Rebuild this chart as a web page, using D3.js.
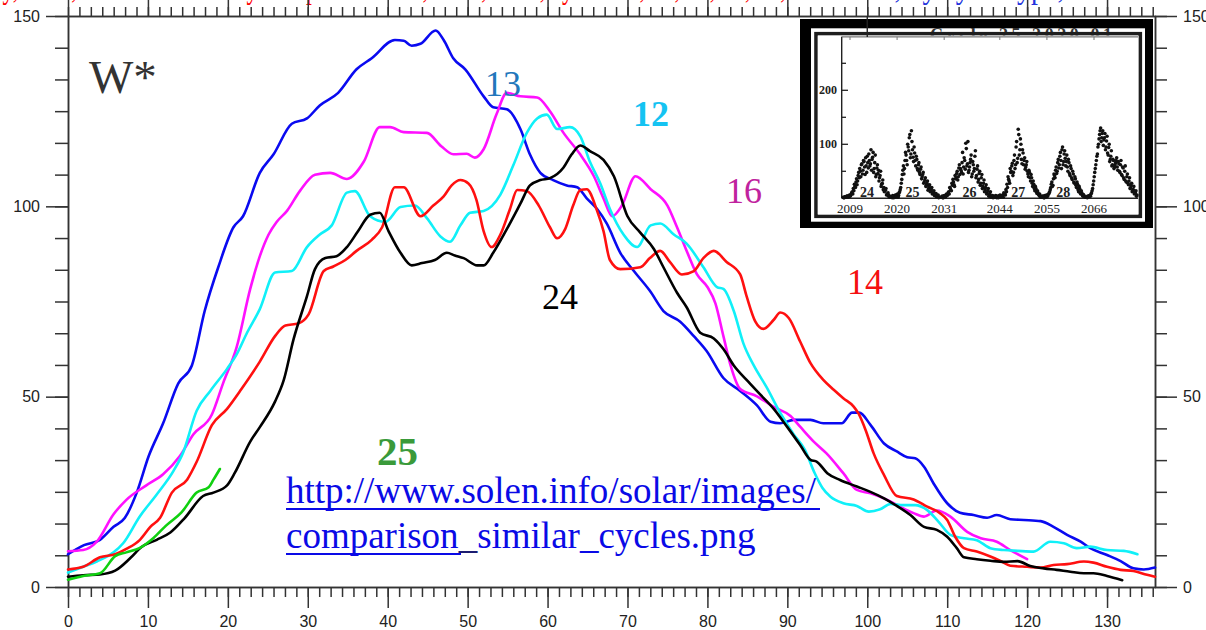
<!DOCTYPE html>
<html><head><meta charset="utf-8">
<script src="https://cdn.jsdelivr.net/npm/d3@7"></script>
<style>html,body{margin:0;padding:0;background:#fff;}svg{display:block;}</style>
</head><body>
<svg id="chart" width="1206" height="630"></svg>
<script>
// ---------- main chart data: [month of cycle, smoothed sunspot number W*] ----------
const cycle13 = [[0,8.6],[2,11],[4,12.4],[5.7,15.8],[7.1,18.1],[8.6,24.8],[10.1,34.4],[11.9,43],[13.8,53.5],[15.5,58.2],[17.1,72.5],[18.8,84],[20.7,94.5],[21.9,97.4],[24,108.8],[25.7,113.6],[28,121.7],[29.9,123.1],[31.5,126.5],[33.8,129.8],[36.1,136],[38,138.9],[40.9,143.7],[42,143.5],[43,142.2],[44.1,142.7],[46,146.2],[47,143.7],[48.2,138.9],[49.7,136],[52,128.9],[53.2,126],[54.9,125.5],[56.6,120.3],[57.8,113.6],[59.1,108.8],[60.7,106.9],[62.4,105.5],[63.7,105],[64.9,102.1],[66.2,99.3],[67.4,95.5],[69.1,87.8],[70.8,83],[72.8,77.8],[74.5,72.5],[76.6,69.7],[78.3,65.9],[79.9,62],[82,54.9],[84.1,51.5],[86.2,47.7],[87.9,43.4],[89.1,43],[90.8,43.9],[92.9,43.9],[94.5,43],[96.8,43],[98.1,45.8],[99,45.8],[100.4,42.6],[102.1,37.7],[103.7,35.6],[105,34.1],[106,33.8],[107.1,31.6],[108.3,27.2],[110,22],[111.6,19.5],[113.3,18.9],[115,18.2],[116.2,18.9],[117.9,17.8],[119.6,17.6],[121.7,17.3],[123.3,15.8],[125,13.7],[126.7,11.9],[127.9,10.2],[130,8.4],[131.7,6.8],[133.3,4.9],[134.6,4.6],[136,5.1]];
const cycle16 = [[0,9.4],[1.9,9.7],[3.6,11.9],[5.7,19.1],[7.3,22.9],[9.8,26.7],[11.9,29.6],[14,34.4],[15.7,40.1],[18,45.3],[19.4,53.5],[21.1,63],[22.8,78.3],[24,86.9],[25.1,92.6],[26.1,95.9],[27.4,98.8],[29,104],[30.9,108.3],[32.8,108.8],[34.9,107.2],[37,111.7],[39,120.8],[40.3,120.8],[42,119.5],[44.9,119.3],[46.7,115.8],[48.2,113.7],[49.9,113.8],[50.9,112.8],[52,115],[53.6,124.1],[54.9,129.8],[56.6,128.9],[58.7,128.6],[60.3,125],[62,119.3],[64.1,113.6],[65.8,107.9],[67,102.1],[68.1,97.4],[69.3,100.2],[71,107.9],[72.9,104.5],[75,100.2],[76.2,94.5],[77.5,87.8],[78.7,82.1],[80,78.8],[81,74.5],[82,65.9],[82.9,58.2],[84.1,52],[86.2,50.1],[88.3,47.3],[90.4,44.9],[91.6,42.1],[93.3,38.2],[94.9,35.1],[97,29.9],[98.7,25.5],[100.4,24.6],[102.5,22.9],[104.1,21.1],[105.8,19.4],[107.1,18.5],[108.7,20.1],[110.4,18.5],[112.5,14.5],[114.2,12.8],[116.2,11.9],[117.9,9.7],[120,7.3]];
const cycle12 = [[0,3.8],[1.9,5.3],[3.6,6.7],[5.7,9.1],[6.9,11.5],[9,18.6],[11.1,24.3],[13.2,30.5],[14.4,35.3],[16.1,46.3],[17.8,51.5],[19.9,57.3],[21.1,61.1],[22.4,66.8],[24,73],[25.9,82.6],[28,83],[29.9,89.3],[31.5,92.6],[33,95],[34.9,103.6],[35.9,104],[37.8,97.4],[39.7,95.9],[41.6,99.8],[43.4,100.2],[44.9,96.9],[46.6,92.1],[47.8,90.7],[49.1,95],[50.3,98.3],[52,98.8],[54.1,103.1],[55.7,110.7],[57.4,119.3],[58.7,123.1],[59.9,124.1],[61.2,120.3],[62.8,120.8],[64.1,118.4],[65.3,111.7],[66.6,106],[67.8,99.3],[69.5,92.6],[71.2,89.3],[72.9,95],[74.1,95.5],[75.8,92.6],[77.4,90.2],[79.5,84],[81.2,78.8],[82,78.3],[83.3,72.5],[84.5,64],[85.8,58.2],[87.4,52.5],[89.1,45.8],[90.8,40.1],[92.2,36],[93.4,30],[94.4,26],[95.4,23.7],[97,22],[98.7,21.3],[100.2,19.8],[101.6,20.4],[102.9,21.8],[104.5,21.5],[106,21.5],[107.5,20.2],[108.9,17.2],[110.4,13.7],[112.1,12.8],[113.7,12.3],[115.4,10.2],[117.1,9.7],[118.8,9.5],[120.8,9.3],[122.9,11.9],[124.6,11.5],[126.2,10.2],[127.9,10.6],[130,9.7],[132.1,9.5],[133.8,8.6]];
const cycle14 = [[0,4.6],[1.9,5.3],[4,7.8],[5.9,8.6],[7.3,10],[9,12.4],[10.3,15.8],[11.5,18.1],[13,24.8],[14.9,28.2],[16.1,32.9],[18,42.5],[19.9,46.8],[21.7,52],[24,59.2],[25.9,65.9],[27.2,68.7],[28.8,69.2],[30.1,71.6],[32,83],[33.2,84.2],[34.7,85.9],[36.1,88.3],[38,91.2],[39.3,94.5],[40.9,105],[42,105],[44.1,97.4],[45.7,100.2],[47,102.6],[48,105.5],[49.1,106.9],[50.1,106],[51.1,101.7],[52,93.5],[53,89.3],[54.1,92.6],[55.3,99.3],[56.2,104.3],[57.4,104],[58.9,100.2],[60.3,94.5],[61.2,91.6],[62.2,94],[63.2,100.2],[64.1,104.3],[64.9,104.5],[66.2,98.8],[67,93.5],[67.8,85.9],[69.1,83.5],[71.6,84],[72.8,86.4],[74.1,88.3],[75.3,85.4],[76.8,82.1],[78.3,83],[79.5,86.4],[80.8,88.3],[82.4,85.4],[84.1,82.1],[84.9,76.4],[86,69.7],[87,67.8],[88.3,70.2],[89.1,72.1],[90.2,70.6],[91.6,64.5],[92.9,58.8],[94.5,54.4],[95.8,51.8],[97,49.6],[98.3,47.4],[98.9,45.6],[99.8,41.2],[100.8,35.1],[102.1,29.4],[103.7,23.9],[105.8,23],[107.5,21.1],[109.1,19.4],[110,17.6],[111,13.2],[112.1,10.2],[113.7,9.3],[115.4,8],[116.6,6.9],[117.9,5.6],[120,5.3],[121.7,5.1],[123.3,5.8],[125,6],[127.1,6.7],[128.3,6.4],[130,5.3],[131.7,4.5],[133.3,4.2],[135,3.2],[136,2.7]];
const cycle24 = [[0,2.7],[1.9,3.1],[4,3.3],[5.9,4.3],[7.8,7.6],[9.2,10.5],[11.1,12.4],[12.8,14.3],[14.6,18.1],[16.9,23.9],[18.2,24.8],[19.9,26.7],[20.9,30.1],[22.8,38.2],[24,42],[25.9,48.7],[27,54.4],[28.2,64.9],[29.9,76.4],[30.9,83.5],[32.2,86.4],[33.6,86.9],[34.9,89.3],[36.3,93.5],[37.8,97.8],[39,98.3],[40.1,93.5],[41.6,87.8],[43,84.5],[44.3,85.1],[45.9,85.9],[47.4,87.8],[48.4,87.1],[49.5,86.4],[51.2,84.5],[52,84.5],[53.2,87.8],[54.9,94],[56.6,100.7],[57.8,105.5],[59.1,106.9],[60.3,107.4],[62,110.2],[63,113.6],[64.1,116],[65.3,114.5],[67,112.2],[68.3,107.9],[70,97.4],[71.6,93.1],[73.3,88.8],[74.5,84],[76.2,77.3],[77.4,73.5],[79.1,66.8],[80.8,65.3],[82,62.5],[83.3,58.2],[84.9,54.4],[86.6,50.6],[88.3,46.8],[90,42],[91.6,37.3],[92.9,33.4],[93.7,32.9],[95,29.9],[96.6,28.1],[98.7,26.4],[100.4,25],[102.1,23.3],[103.7,21.3],[105.4,18.9],[107.1,15.8],[108.7,15],[110,13.2],[111.2,10.2],[112.1,7.8],[113.7,7.3],[115.4,6.9],[117.1,6.6],[118.8,6.8],[120.4,5.5],[122.1,4.9],[123.7,4.5],[125.4,4],[127.1,3.6],[128.3,3.6],[130,2.9],[131.9,1.8]];
const cycle25 = [[0,1.9],[1.9,2.9],[4,3.6],[5.9,8.1],[7.3,9.1],[9,10.3],[10.7,12.9],[12.3,16.2],[14.2,19.6],[16.1,24.8],[17.6,26.2],[18.2,28.2],[19,31]];

const xTickLabels = [0,10,20,30,40,50,60,70,80,90,100,110,120,130];
const yTickLabels = [0,50,100,150];
const cycleLabels = [
  {text:"13", x:485, y:96, size:36, weight:"normal", color:"#2277bb"},
  {text:"12", x:633, y:126, size:36, weight:"bold", color:"#15c3f2"},
  {text:"16", x:726, y:203, size:36, weight:"normal", color:"#c0239e"},
  {text:"14", x:847, y:294, size:36, weight:"normal", color:"#f51010"},
  {text:"24", x:542, y:309, size:36, weight:"normal", color:"#000000"},
  {text:"25", x:377, y:465, size:41, weight:"bold", color:"#3a9a3a"}
];

// ---------- inset data: predicted monthly values, cycles 24..29 (two interleaved samples) ----------
const inset24 = {start:2007.4, step:0.25, values:[2,1,3,2,4,3,6,5,10,8,14,22,30,25,42,38,50,62,45,70,58,75,48,66,82,60,90,72,85,55,80,44,62,52,38,50,26,34,20,14,18,8,10,5,3]};
const inset24b = {start:2007.525, step:0.25, values:[1,3,2,4,2,5,4,8,12,18,26,20,36,32,48,55,40,64,52,68,44,60,78,56,70,64,52,76,48,66,40,56,46,32,42,22,28,16,12,15,6,8,4,2]};
const inset25 = {start:2018.6, step:0.25, values:[3,1,4,2,6,3,8,5,12,20,35,52,45,70,80,62,95,112,75,125,90,68,84,60,72,52,66,44,58,40,48,30,38,24,32,18,25,14,20,10,14,6,9,4,6,2]};
const inset25b = {start:2018.725, step:0.25, values:[2,5,1,3,4,7,2,10,16,28,44,60,55,85,70,100,88,118,82,105,76,95,70,78,55,62,48,54,36,44,28,34,22,28,15,22,12,16,8,11,5,7,3,4,1]};
const inset26 = {start:2030.3, step:0.25, values:[2,4,1,5,3,8,6,12,20,15,28,35,25,42,38,50,40,62,55,48,85,58,70,102,60,105,52,66,80,45,62,55,88,42,60,35,50,28,44,22,34,16,25,10,18,6,12,3,5,2]};
const inset26b = {start:2030.425, step:0.25, values:[3,1,4,2,6,5,10,8,18,14,24,30,22,36,46,34,56,44,52,66,45,75,54,92,64,48,58,72,40,68,50,78,38,54,30,46,24,38,18,28,12,20,8,14,4,8,2,4,1]};
const inset27 = {start:2042.8, step:0.25, values:[2,5,1,4,3,6,3,5,2,8,6,12,20,35,28,48,60,42,70,55,95,66,128,80,110,72,90,62,75,58,68,45,52,38,44,28,32,18,22,12,14,7,8,3,4]};
const inset27b = {start:2042.925, step:0.25, values:[4,2,3,1,5,2,4,6,10,9,16,26,40,32,55,50,65,48,80,62,105,74,118,90,100,64,84,70,54,62,50,40,48,32,38,22,26,14,18,9,10,5,3,2]};
const inset28 = {start:2053.9, step:0.25, values:[2,4,1,3,6,4,8,12,20,30,24,45,38,58,50,72,62,85,55,95,68,88,60,80,50,66,42,55,35,45,28,36,20,26,12,18,8,10,4,5,2,3]};
const inset28b = {start:2054.025, step:0.25, values:[3,1,5,2,4,7,10,16,26,22,36,42,52,46,66,56,78,70,90,62,82,74,68,58,72,46,60,38,50,30,40,24,30,16,22,10,14,6,7,3,2]};
const inset29 = {start:2064.3, step:0.25, values:[2,4,3,5,8,14,25,40,55,70,82,100,118,130,112,125,108,120,95,115,80,100,72,88,62,70,58,66,75,52,64,48,70,42,56,35,60,30,45,25,38,20,28,15,22,10,14,6]};
const inset29b = {start:2064.425, step:0.25, values:[1,3,5,4,10,18,32,48,62,78,95,110,125,105,120,98,112,90,106,84,94,68,78,60,72,55,62,70,58,68,50,62,44,58,38,50,32,40,28,32,18,24,12,16,8,10,4]};
const insetYearLabels = [2009,2020,2031,2044,2055,2066];
const insetYTicks = [50,100,150,200,250];
const insetYLabels = [100,200];
const insetCycleLabels = [["24",2013],["25",2023.6],["26",2036.9],["27",2048.3],["28",2058.8]];

// ---------- drawing ----------
const W = 1206, H = 630;
const serif = "'Liberation Serif','Times New Roman',serif";
const sans = "'Liberation Sans',Arial,sans-serif";
const svg = d3.select("#chart");
svg.append("rect").attr("width",W).attr("height",H).attr("fill","#fff");

// cut-off title line at the very top (only its lowest pixels show)
svg.append("text").attr("x",-4).attr("y",-2).attr("font-family",serif).attr("font-size",34)
  .attr("textLength",790).attr("lengthAdjust","spacingAndGlyphs")
  .attr("fill","#ff0000").text("ly, 2013, smoothed monthly sunspot numbers, 2019, 2020, cycles 12, 13, 14, 16, 24,");
svg.append("text").attr("x",806).attr("y",-2).attr("font-family",serif).attr("font-size",34)
  .attr("textLength",350).attr("lengthAdjust","spacingAndGlyphs")
  .attr("fill","#2233dd").text("forecast, by cycle type, to 2075");

const x = d3.scaleLinear().domain([0,136]).range([68,1155]);
const y = d3.scaleLinear().domain([0,150]).range([587,16]);
const axisColor = "#333";

function style(g, labels){
  g.select(".domain").attr("stroke",axisColor).attr("stroke-width",1.5);
  g.selectAll(".tick line").attr("stroke",axisColor).attr("stroke-width",1.5);
  g.selectAll(".tick text").attr("font-family",sans).attr("font-size",16).attr("fill","#222");
  if(!labels) g.selectAll(".tick text").remove();
}
const xMinor = d3.range(0, 136.01, 10/7);
const yMinor = d3.range(0, 150.01, 50/6);

// bottom
svg.append("g").attr("transform","translate(0,587)")
  .call(d3.axisBottom(x).tickValues(xMinor).tickSize(10).tickSizeOuter(0).tickFormat(""))
  .call(g=>style(g,false));
svg.append("g").attr("transform","translate(0,587)")
  .call(d3.axisBottom(x).tickValues(xTickLabels).tickSize(21).tickSizeOuter(0).tickPadding(8))
  .call(g=>style(g,true));
// top
svg.append("g").attr("transform","translate(0,16)")
  .call(d3.axisTop(x).tickValues(xMinor).tickSize(9).tickSizeOuter(0).tickFormat(""))
  .call(g=>style(g,false));
svg.append("g").attr("transform","translate(0,16)")
  .call(d3.axisTop(x).tickValues(xTickLabels).tickSize(17).tickSizeOuter(0).tickFormat(""))
  .call(g=>style(g,false));
// left
svg.append("g").attr("transform","translate(68,0)")
  .call(d3.axisLeft(y).tickValues(yMinor).tickSize(13).tickSizeOuter(0).tickFormat(""))
  .call(g=>style(g,false));
svg.append("g").attr("transform","translate(68,0)")
  .call(d3.axisLeft(y).tickValues(yTickLabels).tickSize(22).tickSizeOuter(0).tickPadding(6))
  .call(g=>style(g,true));
// right
svg.append("g").attr("transform","translate(1155,0)")
  .call(d3.axisRight(y).tickValues(yMinor).tickSize(12).tickSizeOuter(0).tickFormat(""))
  .call(g=>style(g,false));
svg.append("g").attr("transform","translate(1155,0)")
  .call(d3.axisRight(y).tickValues(yTickLabels).tickSize(22).tickSizeOuter(0).tickPadding(6))
  .call(g=>style(g,true));

// series
const line = d3.line().x(d=>x(d[0])).y(d=>y(d[1])).curve(d3.curveMonotoneX);
const series = [
  {data:cycle13, color:"#0a0af0"},
  {data:cycle16, color:"#ff10ff"},
  {data:cycle12, color:"#10f0f8"},
  {data:cycle14, color:"#ff1010"},
  {data:cycle24, color:"#000000"},
  {data:cycle25, color:"#10d010"}
];
svg.append("g").selectAll("path").data(series).join("path")
  .attr("d",d=>line(d.data)).attr("fill","none").attr("stroke",d=>d.color)
  .attr("stroke-width",2.6).attr("stroke-linejoin","round").attr("stroke-linecap","round");

// texts
svg.append("text").attr("x",89).attr("y",93).attr("font-family",serif).attr("font-size",47)
  .attr("fill","#333").text("W*");
svg.append("g").selectAll("text").data(cycleLabels).join("text")
  .attr("x",d=>d.x).attr("y",d=>d.y).attr("font-family",serif).attr("font-size",d=>d.size)
  .attr("font-weight",d=>d.weight).attr("fill",d=>d.color).text(d=>d.text);

const linkColor = "#0a0ae6";
svg.append("text").attr("x",286).attr("y",503).attr("font-family",serif).attr("font-size",37)
  .attr("fill",linkColor).text("http://www.solen.info/solar/images/");
const t2 = svg.append("text").attr("x",286).attr("y",548).attr("font-family",serif).attr("font-size",37).attr("fill",linkColor);
t2.append("tspan").text("comparison");
t2.append("tspan").attr("fill","#1c1c70").text("_");
t2.append("tspan").text("similar_cycles.png");
svg.append("line").attr("x1",286).attr("x2",820).attr("y1",509).attr("y2",509).attr("stroke",linkColor).attr("stroke-width",2);
svg.append("line").attr("x1",286).attr("x2",461).attr("y1",554).attr("y2",554).attr("stroke",linkColor).attr("stroke-width",2);

// ---------- inset ----------
const ins = svg.append("g");
ins.append("rect").attr("x",800).attr("y",19).attr("width",353).attr("height",209).attr("fill","#000");
ins.append("rect").attr("x",811).attr("y",28.3).attr("width",334).attr("height",193.4).attr("fill","#fff");
ins.append("text").attr("x",930).attr("y",41).attr("font-family",serif).attr("font-size",18)
  .attr("font-weight","bold").attr("fill","#333").attr("textLength",182).text("Cycle 25 2020.01");
ins.append("rect").attr("x",816).attr("y",33.7).attr("width",324.3).attr("height",182.6)
  .attr("fill","none").attr("stroke","#1e1e1e").attr("stroke-width",3.6);
ins.append("rect").attr("x",817.8).attr("y",35.6).attr("width",320.5).attr("height",178.8).attr("fill","#fff");

const ix = d3.scaleLinear().domain([2009,2066]).range([850,1094]);
const iy = d3.scaleLinear().domain([0,300]).range([198.3,36.3]);
// inset axes
ins.append("line").attr("x1",841.7).attr("x2",841.7).attr("y1",36.7).attr("y2",198.3).attr("stroke","#222").attr("stroke-width",1.4);
ins.append("line").attr("x1",841.7).attr("x2",1138).attr("y1",198.3).attr("y2",198.3).attr("stroke","#222").attr("stroke-width",1.4);
ins.append("line").attr("x1",841.7).attr("x2",1138).attr("y1",36.9).attr("y2",36.9).attr("stroke","#555").attr("stroke-width",1);
ins.selectAll("line.yt").data(insetYTicks).join("line").attr("class","yt")
  .attr("x1",841.7).attr("x2",d=>insetYLabels.includes(d)?848:846)
  .attr("y1",d=>iy(d)).attr("y2",d=>iy(d)).attr("stroke","#222").attr("stroke-width",1.3);
ins.selectAll("line.xt").data(insetYearLabels).join("line").attr("class","xt")
  .attr("x1",d=>ix(d)).attr("x2",d=>ix(d)).attr("y1",36.9).attr("y2",40).attr("stroke","#777").attr("stroke-width",1);
ins.selectAll("text.yl").data(insetYLabels).join("text").attr("class","yl")
  .attr("x",837).attr("y",d=>iy(d)+4).attr("text-anchor","end").attr("font-family",serif)
  .attr("font-size",12).attr("font-weight","bold").attr("fill","#222").text(d=>d);
ins.selectAll("text.xl").data(insetYearLabels).join("text").attr("class","xl")
  .attr("x",d=>ix(d)).attr("y",212.5).attr("text-anchor","middle").attr("font-family",serif)
  .attr("font-size",13).attr("fill","#222").text(d=>d);
// dots
const insetCycles = [inset24,inset24b,inset25,inset25b,inset26,inset26b,inset27,inset27b,inset28,inset28b,inset29,inset29b];
const dots = insetCycles.flatMap(c=>c.values.map((v,i)=>[c.start+i*c.step, v]));
ins.append("g").selectAll("circle").data(dots).join("circle")
  .attr("cx",d=>ix(d[0])).attr("cy",d=>iy(d[1])).attr("r",1.8).attr("fill","#111");
ins.selectAll("text.cl").data(insetCycleLabels).join("text").attr("class","cl")
  .attr("x",d=>ix(d[1])).attr("y",197).attr("text-anchor","middle").attr("font-family",serif)
  .attr("font-size",14).attr("font-weight","bold").attr("fill","#222").text(d=>d[0]);

// main top-axis tick at 100 running into the inset
svg.append("line").attr("x1",x(100)).attr("x2",x(100)).attr("y1",16).attr("y2",37)
  .attr("stroke","#222").attr("stroke-width",1.4);
</script>
</body></html>
